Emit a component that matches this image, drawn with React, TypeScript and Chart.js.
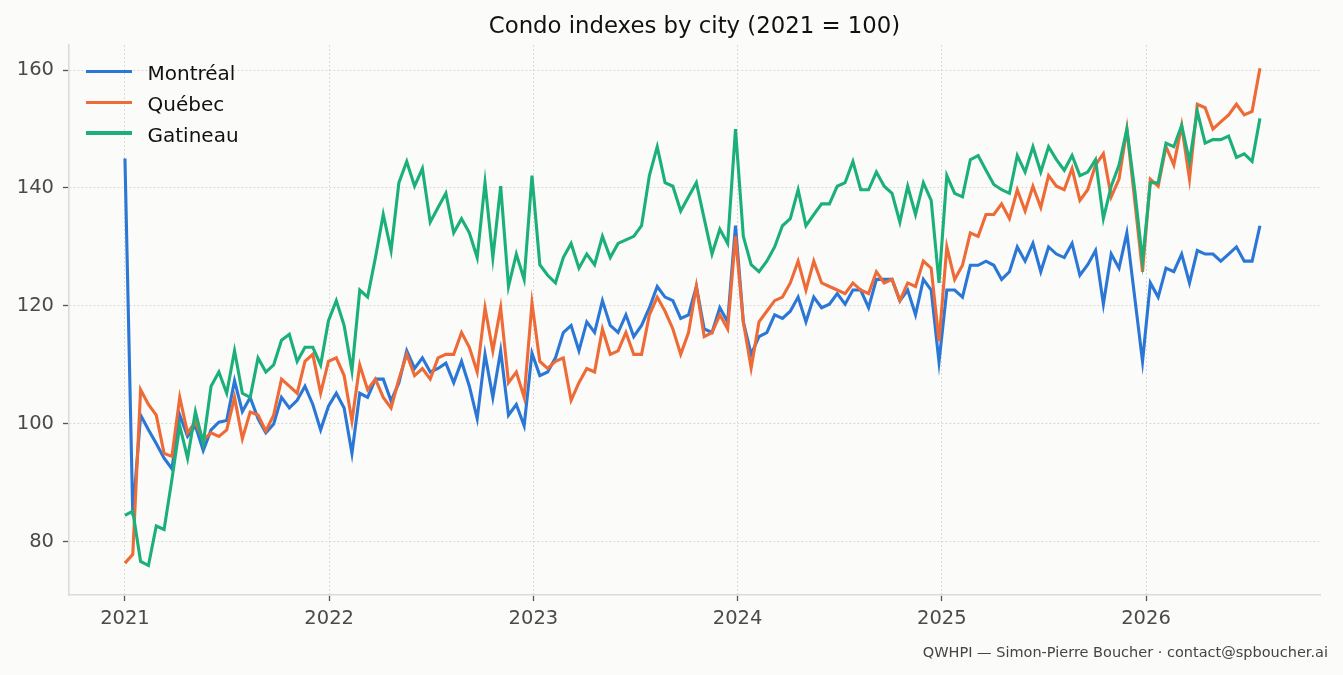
import { useEffect, useRef } from 'react'
import { Chart, registerables } from 'chart.js'

Chart.register(...registerables)

// Bi-weekly readings, first one on 2021-01-01
const startYear = 2021
const stepDays = 14
const yearTicks = [2021, 2022, 2023, 2024, 2025, 2026]
const indexTicks = [80, 100, 120, 140, 160]

const montreal = [
    145, 84.5, 101.5, 99, 96.7, 94.2, 92.4, 101.5, 97.9, 99.7, 95.5, 99, 100.3, 100.6, 107.3, 102.1,
    104.5, 100.9, 98.5, 100, 104.5, 102.7, 104, 106.4, 103.3, 99, 103, 105.2, 102.7, 95, 105.2, 104.5,
    107.6, 107.6, 103.9, 107, 112.4, 109.4, 111.2, 108.8, 109.4, 110.3, 107, 110.6, 106.4, 100.9, 111.8, 104.5,
    112.4, 101.5, 103.3, 99.7, 112, 108.2, 108.8, 111.2, 115.5, 116.7, 112.4, 117.3, 115.5, 120.9, 116.7, 115.5,
    118.5, 114.8, 116.7, 119.7, 123.3, 121.5, 120.9, 117.9, 118.5, 123.3, 116.1, 115.5, 119.7, 117.3, 133.6, 117.3,
    111.8, 114.8, 115.5, 118.5, 117.9, 119.1, 121.5, 117.3, 121.5, 119.7, 120.3, 122.1, 120.3, 122.7, 122.7, 119.7,
    124.5, 124.5, 124.5, 120.9, 122.7, 118.5, 124.5, 122.7, 110.5, 122.7, 122.7, 121.5, 126.9, 126.9, 127.6, 126.9,
    124.5, 125.8, 130, 127.6, 130.6, 125.8, 130, 128.8, 128.2, 130.6, 125.2, 127, 129.4, 120.3, 128.8, 126.4,
    132.4, 121.5, 110.6, 123.9, 121.5, 126.4, 125.8, 128.8, 123.9, 129.4, 128.8, 128.8, 127.6, 128.8, 130, 127.6,
    127.6, 133.6,
]

const quebec = [
    76.4, 77.9, 105.8, 103.3, 101.5, 95, 94.5, 104.5, 98.5, 100.3, 97.3, 98.5, 97.9, 99, 104.5, 97.5,
    102, 101.5, 98.8, 101.5, 107.6, 106.4, 105.2, 110.6, 111.8, 105.2, 110.6, 111.2, 108.2, 100.5, 110, 105.8,
    107.6, 104.5, 102.7, 107.6, 111.8, 108.2, 109.4, 107.6, 111.2, 111.8, 111.8, 115.5, 113, 108.8, 119.7, 112.4,
    119.7, 107, 108.8, 104.5, 120.5, 110.6, 109.4, 110.6, 111.2, 104, 107, 109.4, 108.8, 116.1, 111.8, 112.4,
    115.5, 111.8, 111.8, 118.5, 121.5, 119.1, 116.1, 111.8, 115.5, 123.3, 114.8, 115.5, 118.5, 116.1, 131.8, 117.3,
    109.5, 117.3, 119.1, 120.9, 121.5, 123.9, 127.6, 122.7, 127.6, 123.9, 123.3, 122.7, 122.1, 123.9, 122.7, 122.1,
    125.8, 123.9, 124.5, 120.9, 123.9, 123.3, 127.6, 126.4, 114, 130, 124.5, 126.9, 132.4, 131.8, 135.5, 135.5,
    137.3, 134.8, 139.7, 136.1, 140.3, 136.7, 142.1, 140.3, 139.7, 143.3, 137.9, 139.7, 143.9, 145.8, 138.5, 141.5,
    150, 137.9, 125.8, 141.5, 140.3, 147, 143.9, 150.6, 141.5, 154.2, 153.6, 150, 151.2, 152.4, 154.2, 152.4,
    153, 160.3,
]

const gatineau = [
    84.5, 85.2, 76.7, 76, 82.7, 82.1, 90.6, 99.7, 94.2, 102.1, 96.7, 106.4, 108.8, 105.2, 112.4, 105.2,
    104.5, 111.2, 108.8, 110, 114.2, 115.2, 110.6, 113, 113, 110, 117.5, 120.9, 116.7, 109, 122.7, 121.5,
    128.2, 135.5, 129.4, 140.9, 144.5, 140.3, 143.3, 134.2, 136.7, 139.1, 132.4, 134.8, 132.4, 128.2, 140.9, 128.2,
    140.3, 123.3, 128.8, 124.5, 142.1, 127, 125.2, 123.9, 128.2, 130.6, 126.4, 128.8, 127, 131.8, 128.2, 130.6,
    131.2, 131.8, 133.6, 142.1, 147, 140.9, 140.3, 136.1, 138.5, 140.9, 134.8, 128.8, 133, 130.6, 150, 131.8,
    127, 125.8, 127.6, 130, 133.6, 134.8, 139.7, 133.6, 135.5, 137.3, 137.3, 140.3, 140.9, 144.5, 139.7, 139.7,
    142.7, 140.3, 139.1, 134.2, 140.3, 135.5, 140.9, 137.9, 123.9, 142.1, 139.1, 138.5, 144.8, 145.5, 143, 140.6,
    139.7, 139.1, 145.5, 142.7, 147, 142.7, 147, 144.8, 143, 145.5, 142.1, 142.7, 144.8, 134.8, 140.3, 143.9,
    150, 139.7, 127.6, 140.9, 140.9, 147.6, 147, 150.6, 144.5, 153, 147.6, 148.2, 148.2, 148.8, 145.2, 145.8,
    144.5, 151.8,
]

const series = [
    { name: 'Montréal', values: montreal },
    { name: 'Québec', values: quebec },
    { name: 'Gatineau', values: gatineau },
]

const colors = ['#2a77d6', '#ee6a36', '#1bb07a']
const font = "'DejaVu Sans', sans-serif"

const toPoints = (values: number[]) =>
    values.map((y, i) => ({ x: startYear + (i * stepDays) / 365.25, y }))

export default function App() {
    const canvasRef = useRef<HTMLCanvasElement>(null)
    const chartRef = useRef<Chart | null>(null)

    useEffect(() => {
        if (!canvasRef.current) return
        if (chartRef.current) chartRef.current.destroy()

        const axisCommon = {
            grid: {
                color: '#d2d2ce',
                lineWidth: 1,
                tickColor: '#555',
                tickLength: 6,
                tickWidth: 1.3,
                tickBorderDash: [],
            },
            border: { color: '#dcdcd6', width: 1.6, dash: [1.6, 2.4] },
        }

        chartRef.current = new Chart(canvasRef.current, {
            type: 'line',
            data: {
                datasets: series.map((s, i) => ({
                    label: s.name,
                    data: toPoints(s.values),
                    borderColor: colors[i],
                    backgroundColor: colors[i],
                    borderWidth: 3.1,
                    pointRadius: 0,
                    tension: 0,
                    order: series.length - i,
                })),
            },
            options: {
                animation: false,
                responsive: false,
                layout: { padding: { top: 45, right: 23, left: 0, bottom: 0 } },
                plugins: {
                    legend: { display: false },
                    tooltip: { enabled: false },
                },
                scales: {
                    x: {
                        type: 'linear',
                        min: 2020.726,
                        max: 2026.852,
                        afterBuildTicks: (axis: any) => { axis.ticks = yearTicks.map(v => ({ value: v })) },
                        afterFit: (axis: any) => { axis.height = 80 },
                        ...axisCommon,
                        ticks: {
                            color: '#4a4a4a',
                            font: { family: font, size: 19.5 },
                            padding: 6,
                            maxRotation: 0,
                            autoSkip: false,
                            callback: (v: any) => String(v),
                        },
                    },
                    y: {
                        type: 'linear',
                        min: 71.0,
                        max: 164.24,
                        afterBuildTicks: (axis: any) => { axis.ticks = indexTicks.map(v => ({ value: v })) },
                        afterFit: (axis: any) => { axis.width = 69 },
                        ...axisCommon,
                        ticks: {
                            color: '#4a4a4a',
                            font: { family: font, size: 19.5 },
                            padding: 9,
                            callback: (v: any) => String(v),
                        },
                    },
                },
            },
        } as any)

        return () => { chartRef.current?.destroy() }
    }, [])

    const legendRows = [71.3, 102.5, 133]

    return (
        <div style={{ position: 'absolute', left: 0, top: 0, width: 1343, height: 675, background: '#fbfbf9', fontFamily: font, overflow: 'hidden' }}>
            <canvas ref={canvasRef} width={1343} height={675} style={{ display: 'block', position: 'absolute', left: 0, top: 0 }} />

            {/* Title */}
            <div style={{ position: 'absolute', left: 69, width: 1251, top: 13.5, textAlign: 'center', fontSize: 22.8, lineHeight: 1, color: '#111', whiteSpace: 'nowrap' }}>
                Condo indexes by city (2021 = 100)
            </div>

            {/* Legend */}
            {series.map((s, i) => (
                <div key={s.name}>
                    <div style={{ position: 'absolute', left: 86, top: legendRows[i] - 1.7, width: 46, height: 3.4, background: colors[i] }} />
                    <div style={{ position: 'absolute', left: 147.5, top: legendRows[i] - 8.4, fontSize: 20, lineHeight: 1, color: '#111', whiteSpace: 'nowrap' }}>
                        {s.name}
                    </div>
                </div>
            ))}

            {/* Footer */}
            <div style={{ position: 'absolute', right: 15, top: 645, fontSize: 14.5, lineHeight: 1, color: '#444', whiteSpace: 'nowrap' }}>
                QWHPI — Simon-Pierre Boucher · contact@spboucher.ai
            </div>
        </div>
    )
}
